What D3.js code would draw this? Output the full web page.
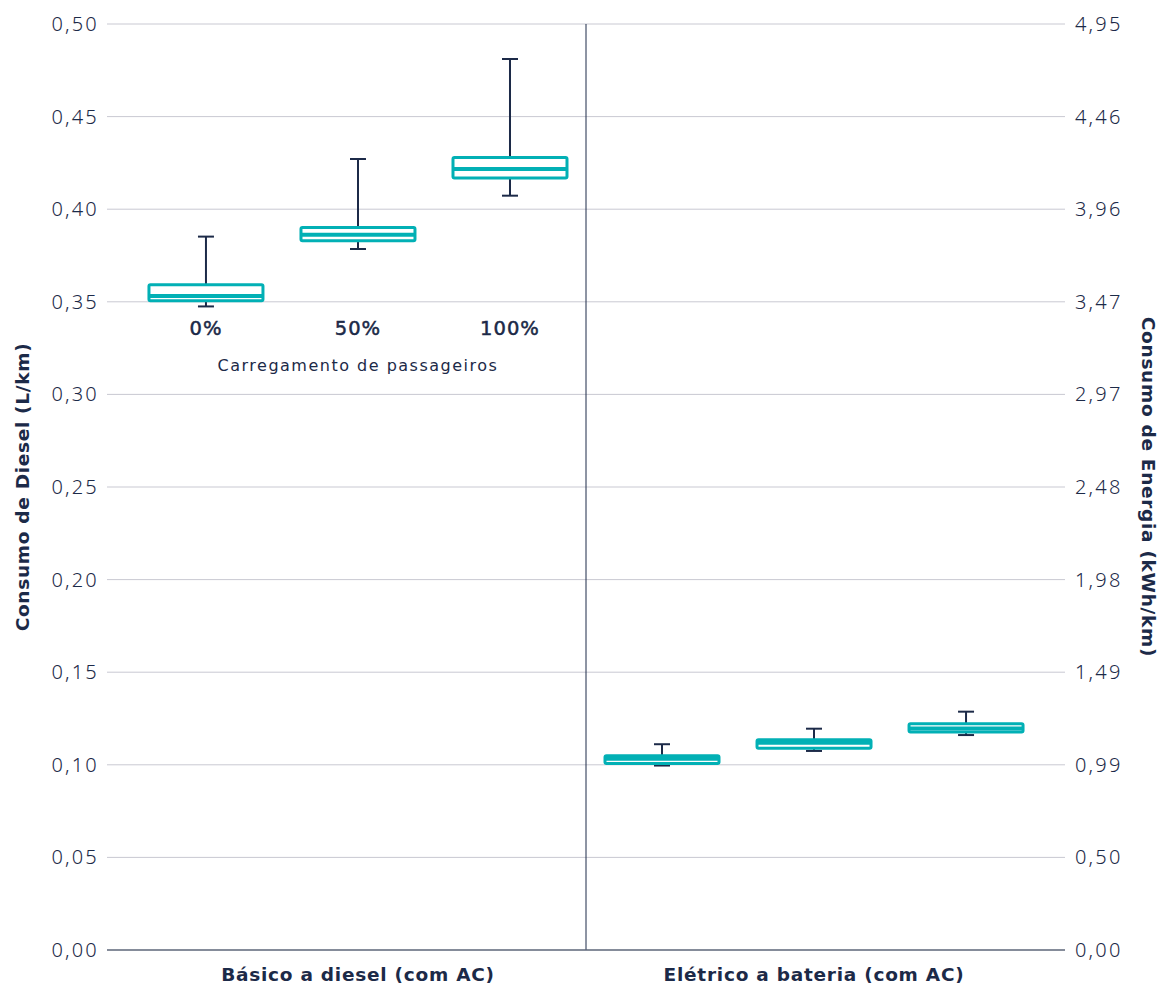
<!DOCTYPE html>
<html>
<head>
<meta charset="utf-8">
<script src="https://cdn.jsdelivr.net/npm/d3@7"></script>
<style>
  body { margin: 0; background: #fff; }
  #chart { width: 1161px; height: 985px; }
  text { font-family: "Noto Sans", "Open Sans", sans-serif; fill: #1c2a48; }
  .tick { font-size: 20px; font-weight: 300; letter-spacing: 2.2px; }
  .axisTitle { font-family: "DejaVu Sans", sans-serif; font-size: 18.5px; font-weight: 700; letter-spacing: 0.7px; }
  .catLabel { font-family: "DejaVu Sans", sans-serif; font-size: 18.5px; font-weight: 700; letter-spacing: 0.75px; }
  .loadLabel { font-family: "DejaVu Sans", sans-serif; font-size: 19.5px; font-weight: 400; letter-spacing: 1px; stroke: #1c2a48; stroke-width: 0.5px; }
  .loadTitle { font-family: "DejaVu Sans", sans-serif; font-size: 16px; font-weight: 400; letter-spacing: 1.5px; }
</style>
</head>
<body>
<div id="chart"></div>
<script>
// categories
const groups = ["Básico a diesel (com AC)", "Elétrico a bateria (com AC)"];
const loads = ["0%", "50%", "100%"];

// diesel boxes (L/km, left axis)
const dieselMin = [0.3475, 0.3785, 0.4073];
const dieselQ1 = [0.3505, 0.3829, 0.4168];
const dieselMed = [0.3531, 0.3862, 0.4217];
const dieselQ3 = [0.3592, 0.3901, 0.4279];
const dieselMax = [0.3852, 0.4271, 0.4811];

// electric boxes (kWh/km, right axis)
const electricMin = [0.986, 1.064, 1.149];
const electricQ1 = [0.997, 1.079, 1.166];
const electricMed = [1.022, 1.108, 1.184];
const electricQ3 = [1.038, 1.124, 1.209];
const electricMax = [1.100, 1.183, 1.274];

// axis ticks
const leftTicks = [0, 0.05, 0.10, 0.15, 0.20, 0.25, 0.30, 0.35, 0.40, 0.45, 0.50];
const leftTickLabels = ["0,00", "0,05", "0,10", "0,15", "0,20", "0,25", "0,30", "0,35", "0,40", "0,45", "0,50"];
const rightTickLabels = ["0,00", "0,50", "0,99", "1,49", "1,98", "2,48", "2,97", "3,47", "3,96", "4,46", "4,95"];
const rightMax = 4.95;

const width = 1161, height = 985;
const margin = {top: 24, left: 107, right: 96, bottom: 35};
const teal = "#02b0b5";
const navy = "#1c2a48";

const svg = d3.select("#chart").append("svg")
    .attr("width", width)
    .attr("height", height);

const yLeft = d3.scaleLinear()
    .domain([0, 0.5])
    .range([height - margin.bottom, margin.top]);

const yRight = d3.scaleLinear()
    .domain([0, rightMax])
    .range([height - margin.bottom, margin.top]);

// six box positions: 3 diesel then 3 electric
const slots = [];
groups.forEach(function(g, gi) {
    loads.forEach(function(l) { slots.push(gi + "|" + l); });
});
const xScale = d3.scalePoint()
    .domain(slots)
    .range([margin.left, width - margin.right])
    .padding(0.651);

const plotLeft = margin.left, plotRight = width - margin.right;
const plotMid = (plotLeft + plotRight) / 2;

// gridlines
svg.append("g")
    .selectAll("line")
    .data(leftTicks.slice(1))
    .join("line")
    .attr("x1", plotLeft)
    .attr("x2", plotRight)
    .attr("y1", function(d) { return yLeft(d); })
    .attr("y2", function(d) { return yLeft(d); })
    .attr("stroke", "#c9c9d2")
    .attr("stroke-width", 1);

// left axis labels
svg.append("g")
    .selectAll("text")
    .data(leftTicks)
    .join("text")
    .attr("class", "tick")
    .attr("x", plotLeft - 8)
    .attr("y", function(d) { return yLeft(d); })
    .attr("dy", "0.35em")
    .attr("text-anchor", "end")
    .text(function(d, i) { return leftTickLabels[i]; });

// right axis labels
svg.append("g")
    .selectAll("text")
    .data(rightTickLabels)
    .join("text")
    .attr("class", "tick")
    .attr("x", plotRight + 10)
    .attr("y", function(d, i) { return yRight(rightMax * i / 10); })
    .attr("dy", "0.35em")
    .attr("text-anchor", "start")
    .text(function(d) { return d; });

// divider between groups
svg.append("line")
    .attr("x1", plotMid).attr("x2", plotMid)
    .attr("y1", yLeft(0.5)).attr("y2", yLeft(0))
    .attr("stroke", navy)
    .attr("stroke-width", 1);

// bottom axis line
svg.append("line")
    .attr("x1", plotLeft).attr("x2", plotRight)
    .attr("y1", yLeft(0)).attr("y2", yLeft(0))
    .attr("stroke", "#5d6679")
    .attr("stroke-width", 1.5);

// build box records
const boxes = [];
loads.forEach(function(l, i) {
    boxes.push({key: "0|" + l, y: yLeft, min: dieselMin[i], q1: dieselQ1[i], med: dieselMed[i], q3: dieselQ3[i], max: dieselMax[i]});
});
loads.forEach(function(l, i) {
    boxes.push({key: "1|" + l, y: yRight, min: electricMin[i], q1: electricQ1[i], med: electricMed[i], q3: electricQ3[i], max: electricMax[i]});
});

const boxW = 114, capW = 16;

const bg = svg.append("g")
    .selectAll("g")
    .data(boxes)
    .join("g")
    .attr("transform", function(d) { return `translate(${xScale(d.key)},0)`; });

// whisker line
bg.append("line")
    .attr("x1", 0).attr("x2", 0)
    .attr("y1", function(d) { return d.y(d.max); })
    .attr("y2", function(d) { return d.y(d.min); })
    .attr("stroke", navy)
    .attr("stroke-width", 2);

// caps
["max", "min"].forEach(function(k) {
    bg.append("line")
        .attr("x1", -capW / 2).attr("x2", capW / 2)
        .attr("y1", function(d) { return d.y(d[k]); })
        .attr("y2", function(d) { return d.y(d[k]); })
        .attr("stroke", navy)
        .attr("stroke-width", 2);
});

// box
bg.append("rect")
    .attr("x", -boxW / 2)
    .attr("width", boxW)
    .attr("y", function(d) { return d.y(d.q3); })
    .attr("height", function(d) { return d.y(d.q1) - d.y(d.q3); })
    .attr("rx", 1.5)
    .attr("fill", "#fff")
    .attr("stroke", teal)
    .attr("stroke-width", 3);

// median
bg.append("line")
    .attr("x1", -boxW / 2).attr("x2", boxW / 2)
    .attr("y1", function(d) { return d.y(d.med); })
    .attr("y2", function(d) { return d.y(d.med); })
    .attr("stroke", teal)
    .attr("stroke-width", 4);

// passenger load labels under diesel boxes
svg.append("g")
    .selectAll("text")
    .data(loads)
    .join("text")
    .attr("class", "loadLabel")
    .attr("x", function(d) { return xScale("0|" + d); })
    .attr("y", 335)
    .attr("text-anchor", "middle")
    .text(function(d) { return d; });

svg.append("text")
    .attr("class", "loadTitle")
    .attr("x", xScale("0|50%"))
    .attr("y", 371)
    .attr("text-anchor", "middle")
    .text("Carregamento de passageiros");

// group labels
svg.append("g")
    .selectAll("text")
    .data(groups)
    .join("text")
    .attr("class", "catLabel")
    .attr("x", function(d, i) { return xScale(i + "|50%"); })
    .attr("y", 981)
    .attr("text-anchor", "middle")
    .text(function(d) { return d; });

// axis titles
const yMid = (yLeft(0) + yLeft(0.5)) / 2;
svg.append("text")
    .attr("class", "axisTitle")
    .attr("transform", `translate(29,${yMid}) rotate(-90)`)
    .attr("text-anchor", "middle")
    .text("Consumo de Diesel (L/km)");

svg.append("text")
    .attr("class", "axisTitle")
    .attr("transform", `translate(1142,${yMid}) rotate(90)`)
    .attr("text-anchor", "middle")
    .text("Consumo de Energia (kWh/km)");
</script>
</body>
</html>
